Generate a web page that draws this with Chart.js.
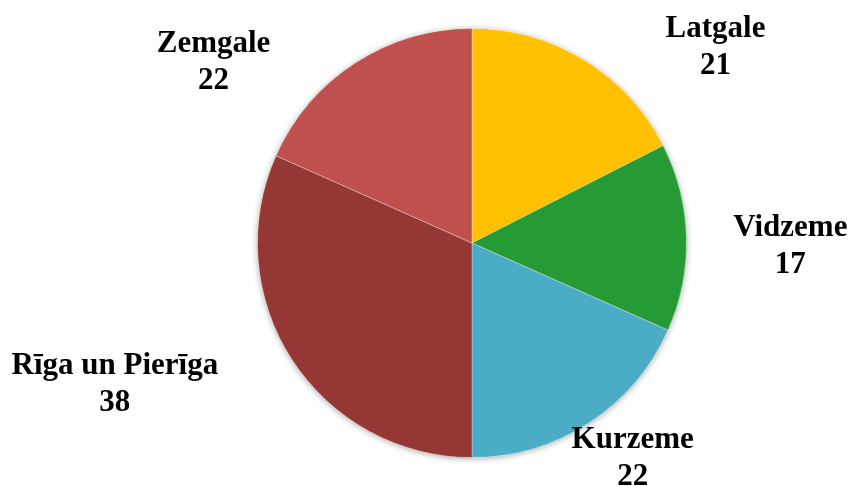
<!DOCTYPE html>
<html>
<head>
<meta charset="utf-8">
<script src="https://cdn.jsdelivr.net/npm/chart.js@4.4.1/dist/chart.umd.min.js"></script>
<style>
  html, body { margin: 0; padding: 0; background: #fff; }
  #wrap { width: 853px; height: 486px; position: relative; }
</style>
</head>
<body>
<div id="wrap"><canvas id="pieChart"></canvas></div>
<script>
// regions and counts, clockwise from the top
var regions = ['Latgale', 'Vidzeme', 'Kurzeme', 'Rīga un Pierīga', 'Zemgale'];
var counts = [21, 17, 22, 38, 22];
var sliceColors = ['#FFC000', '#259A35', '#4BACC6', '#953735', '#C0504D'];

// where each label sits, relative to the pie centre, in units of the radius
var labelOffsets = [[1.135, -0.91], [1.484, 0.015], [0.749, 1.005], [-1.665, 0.66], [-1.205, -0.84]];

// soft shadow under the whole pie
var pieShadow = {
    id: 'pieShadow',
    beforeDatasetsDraw: function(chart) {
        var arc = chart.getDatasetMeta(0).data[0];
        if (!arc) return;
        var ctx = chart.ctx;
        ctx.save();
        ctx.shadowColor = 'rgba(0,0,0,0.35)';
        ctx.shadowBlur = 6;
        ctx.shadowOffsetY = 1;
        ctx.fillStyle = '#fff';
        ctx.beginPath();
        ctx.arc(arc.x, arc.y, arc.outerRadius, 0, Math.PI * 2);
        ctx.fill();
        ctx.restore();
    }
};

// draws the name and value for each slice
var sliceLabels = {
    id: 'sliceLabels',
    afterDatasetsDraw: function(chart) {
        var ctx = chart.ctx;
        var meta = chart.getDatasetMeta(0);
        ctx.save();
        ctx.font = 'bold 31px "Liberation Serif", "Times New Roman", serif';
        ctx.fillStyle = '#000';
        ctx.textAlign = 'center';
        ctx.textBaseline = 'middle';
        meta.data.forEach(function(arc, i) {
            var r = arc.outerRadius;
            var x = arc.x + labelOffsets[i][0] * r;
            var y = arc.y + labelOffsets[i][1] * r;
            ctx.fillText(chart.data.labels[i], x, y - 18.5);
            ctx.fillText(String(chart.data.datasets[0].data[i]), x, y + 18.5);
        });
        ctx.restore();
    }
};

var ctx = document.getElementById('pieChart').getContext('2d');
new Chart(ctx, {
    type: 'pie',
    data: {
        labels: regions,
        datasets: [{
            data: counts,
            backgroundColor: sliceColors,
            borderColor: 'rgba(255,255,255,0.3)',
            borderWidth: 1
        }]
    },
    options: {
        responsive: true,
        maintainAspectRatio: false,
        animation: false,
        layout: { padding: { top: 28, bottom: 28, left: 91, right: 0 } },
        plugins: {
            legend: { display: false },
            tooltip: { enabled: false }
        }
    },
    plugins: [pieShadow, sliceLabels]
});
</script>
</body>
</html>
